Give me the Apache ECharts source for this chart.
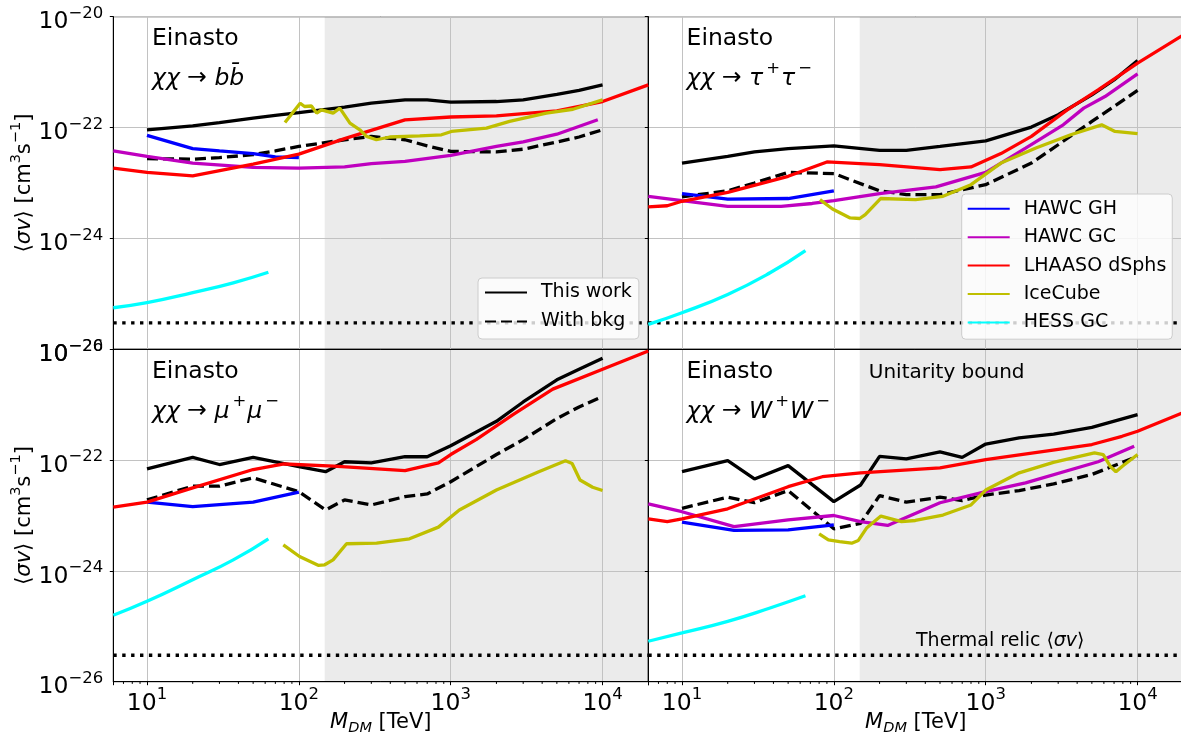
<!DOCTYPE html>
<html><head><meta charset="utf-8">
<script src="https://cdn.jsdelivr.net/npm/echarts@6/dist/echarts.min.js"></script>
<style>html,body{margin:0;padding:0;background:#fff;}#c{width:1181px;height:745px;}</style>
</head><body><div id="c"></div>
<script>
// ---------------- DATA ----------------
// axis ranges / ticks
const xMin = 6, xMax = 20000;
const yMin = 1e-26, yMax = 1e-20;
const xTickExps = [1, 2, 3, 4];
const yTickExps = [-26, -24, -22, -20];
const yTickValues = [1e-26, 1e-24, 1e-22, 1e-20];
const thermalRelic = 3e-26;
const unitarityMass = 148;

// ---- chi chi -> b bbar ----
const bb_massBlack = [10,20,30,50,70,100,200,300,500,700,1000,2000,3000,5000,7000,10000];
const bb_thisWork = [9.12e-23,1.07e-22,1.23e-22,1.48e-22,1.66e-22,1.86e-22,2.34e-22,2.75e-22,3.16e-22,3.16e-22,2.88e-22,2.95e-22,3.16e-22,3.98e-22,4.68e-22,5.89e-22];
const bb_withBkg = [2.75e-23,2.69e-23,2.88e-23,3.24e-23,3.80e-23,4.57e-23,6.03e-23,6.92e-23,6.03e-23,4.68e-23,3.72e-23,3.63e-23,4.07e-23,5.50e-23,6.76e-23,9.12e-23];
const bb_massHawcGH = [10,20,30,50,70,100];
const bb_hawcGH = [7.24e-23,4.17e-23,3.80e-23,3.39e-23,2.95e-23,2.88e-23];
const bb_massHawcGC = [6,10,20,50,100,200,300,500,1000,2000,3000,5000,9300];
const bb_hawcGC = [3.80e-23,3.02e-23,2.29e-23,1.91e-23,1.86e-23,1.95e-23,2.24e-23,2.45e-23,3.16e-23,4.57e-23,5.50e-23,7.59e-23,1.38e-22];
const bb_massLhaaso = [6,10,20,50,100,200,500,1000,2000,5000,10000,20000];
const bb_lhaaso = [1.86e-23,1.55e-23,1.35e-23,2.19e-23,3.31e-23,6.31e-23,1.38e-22,1.55e-22,1.62e-22,2.00e-22,2.95e-22,5.89e-22];
const bb_massIceCube = [81,102,109,121,131,141,168,186,217,252,279,324,397,625,869,1010,1720,2440,4260,6380,10000];
const bb_iceCube = [1.23e-22,2.75e-22,2.40e-22,2.45e-22,1.82e-22,2.09e-22,1.82e-22,2.24e-22,1.20e-22,9.12e-23,6.92e-23,6.03e-23,6.76e-23,7.08e-23,7.41e-23,8.51e-23,9.77e-23,1.29e-22,1.82e-22,2.14e-22,3.16e-22];
const bb_massHess = [6,10,20,37,63];
const bb_hess = [5.62e-26,6.92e-26,1.05e-25,1.58e-25,2.45e-25];

// ---- chi chi -> tau+ tau- ----
const tt_massBlack = [10,20,30,50,100,200,300,500,1000,2000,3000,5000,7000,10000];
const tt_thisWork = [2.29e-23,3.02e-23,3.63e-23,4.17e-23,4.68e-23,3.89e-23,3.89e-23,4.57e-23,5.75e-23,1.02e-22,1.70e-22,3.89e-22,7.24e-22,1.62e-21];
const tt_withBkg = [5.62e-24,7.24e-24,1.00e-23,1.55e-23,1.48e-23,7.24e-24,6.17e-24,6.17e-24,9.33e-24,2.29e-23,4.90e-23,1.29e-22,2.40e-22,4.68e-22];
const tt_massHawcGH = [10,20,50,100];
const tt_hawcGH = [6.46e-24,5.13e-24,5.25e-24,7.24e-24];
const tt_massHawcGC = [6,10,20,45,72,100,200,470,1000,1830,3240,4420,6100,10000];
const tt_hawcGC = [5.75e-24,4.79e-24,3.80e-24,3.80e-24,4.27e-24,4.79e-24,6.46e-24,8.51e-24,1.55e-23,4.27e-23,1.12e-22,2.24e-22,3.63e-22,9.33e-22];
const tt_massLhaaso = [6,8,10,20,50,90,200,500,800,1260,2000,3440,5500,10000,20000];
const tt_lhaaso = [3.72e-24,3.89e-24,4.68e-24,6.76e-24,1.32e-23,2.40e-23,2.14e-23,1.74e-23,1.95e-23,3.39e-23,6.92e-23,2.09e-22,4.79e-22,1.45e-21,4.68e-21];
const tt_massIceCube = [81,98,128,148,161,203,345,523,800,1260,2140,3630,5800,7100,10000];
const tt_iceCube = [5.01e-24,3.39e-24,2.34e-24,2.29e-24,2.69e-24,5.25e-24,5.01e-24,5.75e-24,9.33e-24,2.29e-23,4.27e-23,7.41e-23,1.12e-22,8.51e-23,7.76e-23];
const tt_massHess = [6,10,20,38,65];
const tt_hess = [2.82e-26,4.57e-26,9.77e-26,2.40e-25,6.03e-25];

// ---- chi chi -> mu+ mu- ----
const mm_massBlack = [10,20,30,50,100,150,200,300,500,700,1000,2000,3000,5000,7000,10000];
const mm_thisWork = [6.92e-23,1.12e-22,8.32e-23,1.12e-22,7.59e-23,6.17e-23,9.33e-23,8.91e-23,1.15e-22,1.15e-22,1.82e-22,5.01e-22,1.12e-21,2.82e-21,4.37e-21,6.92e-21];
const mm_withBkg = [1.91e-23,3.39e-23,3.39e-23,4.79e-23,2.69e-23,1.26e-23,1.91e-23,1.55e-23,2.19e-23,2.45e-23,4.07e-23,1.26e-22,2.34e-22,5.62e-22,9.12e-22,1.41e-21];
const mm_massHawcGH = [10,20,50,100];
const mm_hawcGH = [1.74e-23,1.45e-23,1.74e-23,2.63e-23];
const mm_massLhaaso = [6,10,20,50,80,170,500,830,1000,1470,2600,4700,10000,20000];
const mm_lhaaso = [1.41e-23,1.74e-23,3.16e-23,6.76e-23,8.51e-23,7.76e-23,6.46e-23,8.91e-23,1.26e-22,2.34e-22,6.76e-22,1.91e-21,4.37e-21,9.33e-21];
const mm_massIceCube = [79,101,134,148,168,206,325,535,830,1140,2000,3800,5700,6300,7100,8600,10000];
const mm_iceCube = [2.95e-24,1.82e-24,1.26e-24,1.29e-24,1.58e-24,3.09e-24,3.16e-24,3.80e-24,6.17e-24,1.26e-23,2.88e-23,6.17e-23,9.77e-23,8.71e-23,4.37e-23,3.24e-23,2.82e-23];
const mm_massHess = [6,10,20,37,63];
const mm_hess = [1.58e-25,2.82e-25,6.92e-25,1.58e-24,3.80e-24];

// ---- chi chi -> W+ W- ----
const ww_massBlack = [10,20,30,50,100,150,200,300,500,700,1000,1660,2800,5000,10000];
const ww_thisWork = [6.17e-23,9.77e-23,4.57e-23,7.94e-23,1.78e-23,3.55e-23,1.17e-22,1.05e-22,1.41e-22,1.12e-22,1.95e-22,2.51e-22,2.95e-22,3.89e-22,6.61e-22];
const ww_withBkg = [1.35e-23,2.14e-23,1.70e-23,2.82e-23,5.75e-24,7.24e-24,2.29e-23,1.74e-23,2.14e-23,1.86e-23,2.34e-23,2.82e-23,3.72e-23,5.50e-23,1.17e-22];
const ww_massHawcGH = [10,22,50,100];
const ww_hawcGH = [7.59e-24,5.37e-24,5.50e-24,6.76e-24];
const ww_massHawcGC = [6,10,22,50,100,150,226,500,1000,1830,5500,9500];
const ww_hawcGC = [1.62e-23,1.17e-23,6.31e-24,8.32e-24,1.00e-23,7.76e-24,6.61e-24,1.70e-23,2.69e-23,3.89e-23,9.33e-23,1.78e-22];
const ww_massLhaaso = [6,8,10,20,50,84,150,500,1000,5000,7900,10000,20000];
const ww_lhaaso = [8.71e-24,7.76e-24,8.71e-24,1.32e-23,3.31e-23,5.01e-23,5.89e-23,7.24e-23,1.02e-22,1.91e-22,2.69e-22,3.31e-22,7.24e-22];
const ww_massIceCube = [80,92,109,131,145,165,204,279,344,523,800,1000,1660,2790,5200,5940,6600,7200,7940,10000];
const ww_iceCube = [4.68e-24,3.63e-24,3.39e-24,3.16e-24,3.55e-24,6.03e-24,9.77e-24,7.76e-24,8.13e-24,1.02e-23,1.55e-23,2.88e-23,5.89e-23,9.12e-23,1.35e-22,1.26e-22,7.76e-23,6.17e-23,7.76e-23,1.26e-22];
const ww_massHess = [6,10,20,38,65];
const ww_hess = [5.37e-26,7.59e-26,1.23e-25,2.14e-25,3.55e-25];

// labels
const profileLabel = 'Einasto';
const channelLabels = [
  '{i|χχ}{n| → }{i|bb\u0304}',
  '{i|χχ}{n| → }{i|τ}{p|+}{i|τ}{p|−}',
  '{i|χχ}{n| → }{i|μ}{p|+}{i|μ}{p|−}',
  '{i|χχ}{n| → }{i|W}{p|+}{i|W}{p|−}'
];
const legendMain = ['This work', 'With bkg'];
const legendOthers = ['HAWC GH', 'HAWC GC', 'LHAASO dSphs', 'IceCube', 'HESS GC'];

// ---------------- CHART ----------------
const FONT = '"DejaVu Sans", sans-serif';
const C = {black:'#000000', blue:'#0000ff', mag:'#bf00bf', red:'#ff0000', olive:'#bfbf00', cyan:'#00ffff'};
const LW = 3.3;

const grids = [
  {left:113.3, top:16.7, width:535, height:332.6},
  {left:648.3, top:16.7, width:535, height:332.6},
  {left:113.3, top:349.3, width:535, height:332.4},
  {left:648.3, top:349.3, width:535, height:332.4}
].map(g => Object.assign(g, {show:true, borderColor:'#000', borderWidth:1, z:1, containLabel:false, outerBoundsMode:'none'}));

const powRich = {
  b: {fontFamily:FONT, fontSize:23.5, lineHeight:29, color:'#000', verticalAlign:'bottom'},
  e: {fontFamily:FONT, fontSize:16.5, lineHeight:14, color:'#000', verticalAlign:'top'}
};
function powLabel(exps) {
  return function(v) {
    const l = Math.log10(v), e = Math.round(l);
    if (Math.abs(l - e) > 1e-4 || exps.indexOf(e) < 0) return '';
    return '{b|10}{e|' + String(e).replace('-', '\u2212') + '}';
  };
}

const xAxes = [0,1,2,3].map(i => {
  const bottom = i >= 2;
  return {
    type:'log', logBase:10, gridIndex:i, min:xMin, max:xMax, z:1,
    axisLine:{show:true, lineStyle:{color:'#000', width:1}},
    axisTick:{show:bottom, inside:false, length:3.5, lineStyle:{color:'#000', width:1}},
    axisLabel:{show:bottom, formatter:powLabel(xTickExps), rich:powRich, margin:4.8, hideOverlap:false},
    splitLine:{show:true, lineStyle:{color:'#c2c2c2', width:1}},
    minorTick:{show:false}, minorSplitLine:{show:false},
    name: bottom ? '{i|M}{s|DM}{n| [TeV]}' : '',
    nameLocation:'middle', nameGap:30, nameMoveOverlap:false,
    nameTextStyle:{rich:{
      i:{fontFamily:FONT, fontSize:21, fontStyle:'italic', lineHeight:24, verticalAlign:'top', color:'#000'},
      s:{fontFamily:FONT, fontSize:14.5, fontStyle:'italic', lineHeight:14, verticalAlign:'bottom', color:'#000'},
      n:{fontFamily:FONT, fontSize:21, lineHeight:24, verticalAlign:'top', color:'#000'}
    }}
  };
});

const yAxes = [0,1,2,3].map(i => {
  const left = (i % 2) === 0;
  return {
    type:'log', logBase:100, gridIndex:i, min:yMin, max:yMax, z:1,
    axisLine:{show:true, lineStyle:{color:'#000', width:1}},
    axisTick:{show:true, inside:false, length:3.5, lineStyle:{color:'#000', width:1}},
    axisLabel:{show:left, formatter:powLabel(yTickExps), rich:powRich, margin:10, padding:[6,0,0,0],
      customValues:yTickValues, hideOverlap:false, showMinLabel:true, showMaxLabel:true},
    splitLine:{show:true, lineStyle:{color:'#c2c2c2', width:1}},
    name: left ? '{n|⟨}{i|σv}{n|⟩ [cm}{s|3}{n|s}{s|−1}{n|]}' : '',
    nameLocation:'middle', nameGap:78, nameRotate:90, nameMoveOverlap:false,
    nameTextStyle:{rich:{
      n:{fontFamily:FONT, fontSize:21, lineHeight:27, verticalAlign:'bottom', color:'#000'},
      i:{fontFamily:FONT, fontSize:21, fontStyle:'italic', lineHeight:27, verticalAlign:'bottom', color:'#000'},
      s:{fontFamily:FONT, fontSize:14.5, lineHeight:13, verticalAlign:'top', color:'#000'}
    }}
  };
});

function pairs(xs, ys) { return xs.map((x, k) => [x, ys[k]]); }
function line(name, gi, xs, ys, color, dash, smooth) {
  return {
    type:'line', name:name, xAxisIndex:gi, yAxisIndex:gi, data:pairs(xs, ys),
    symbol:'none', showSymbol:false, clip:true, z:2, silent:true, smooth:!!smooth,
    animation:false, emphasis:{disabled:true},
    lineStyle:{color:color, width:LW, type:dash || 'solid', cap:'butt'},
    itemStyle:{color:color}
  };
}

const series = [];
// shaded region (unitarity bound) through the axes' scales
[0,1,2,3].forEach(gi => {
  series.push({
    type:'custom', xAxisIndex:gi, yAxisIndex:gi, z:0, silent:true, clip:true, animation:false,
    data:[[unitarityMass, xMax, yMax, yMin]],
    encode:{x:[0,1], y:[2,3]},
    renderItem:(params, api) => {
      const p1 = api.coord([api.value(0), api.value(2)]);
      const p2 = api.coord([api.value(1), api.value(3)]);
      return {type:'rect', shape:{x:p1[0], y:p1[1], width:p2[0]-p1[0], height:p2[1]-p1[1]}, style:{fill:'#ebebeb'}};
    }
  });
});

const DASH = [11, 5];
const panels = [
  {gi:0, tw:[bb_massBlack,bb_thisWork], wb:[bb_massBlack,bb_withBkg], gh:[bb_massHawcGH,bb_hawcGH], gc:[bb_massHawcGC,bb_hawcGC], lh:[bb_massLhaaso,bb_lhaaso], ic:[bb_massIceCube,bb_iceCube], hs:[bb_massHess,bb_hess]},
  {gi:1, tw:[tt_massBlack,tt_thisWork], wb:[tt_massBlack,tt_withBkg], gh:[tt_massHawcGH,tt_hawcGH], gc:[tt_massHawcGC,tt_hawcGC], lh:[tt_massLhaaso,tt_lhaaso], ic:[tt_massIceCube,tt_iceCube], hs:[tt_massHess,tt_hess]},
  {gi:2, tw:[mm_massBlack,mm_thisWork], wb:[mm_massBlack,mm_withBkg], gh:[mm_massHawcGH,mm_hawcGH], gc:null, lh:[mm_massLhaaso,mm_lhaaso], ic:[mm_massIceCube,mm_iceCube], hs:[mm_massHess,mm_hess]},
  {gi:3, tw:[ww_massBlack,ww_thisWork], wb:[ww_massBlack,ww_withBkg], gh:[ww_massHawcGH,ww_hawcGH], gc:[ww_massHawcGC,ww_hawcGC], lh:[ww_massLhaaso,ww_lhaaso], ic:[ww_massIceCube,ww_iceCube], hs:[ww_massHess,ww_hess]}
];
panels.forEach(p => {
  const g = p.gi;
  series.push(line('Thermal relic', g, [xMin, xMax], [thermalRelic, thermalRelic], C.black, [3.4, 5.5]));
  series.push(line('This work', g, p.tw[0], p.tw[1], C.black));
  series.push(line('With bkg', g, p.wb[0], p.wb[1], C.black, DASH));
  series.push(line('HAWC GH', g, p.gh[0], p.gh[1], C.blue));
  if (p.gc) series.push(line('HAWC GC', g, p.gc[0], p.gc[1], C.mag));
  series.push(line('LHAASO dSphs', g, p.lh[0], p.lh[1], C.red));
  series.push(line('IceCube', g, p.ic[0], p.ic[1], C.olive));
  series.push(line('HESS GC', g, p.hs[0], p.hs[1], C.cyan, null, true));
});

// minor ticks on the bottom mass axes (log 2..9 positions)
const minorTickMasses = [];
for (let d = 1; d <= 10000; d *= 10) for (let k = 2; k <= 9; k++) { const m = k * d; if (m > xMin && m < xMax) minorTickMasses.push(m); }
[2,3].forEach(gi => {
  series.push({
    type:'custom', xAxisIndex:gi, yAxisIndex:gi, z:3, silent:true, clip:false, animation:false,
    data:minorTickMasses.map(m => [m, yMin]), encode:{x:0, y:1},
    renderItem:(params, api) => {
      const p = api.coord([api.value(0), api.value(1)]);
      return {type:'line', shape:{x1:p[0], y1:p[1], x2:p[0], y2:p[1]+2.2}, style:{stroke:'#000', lineWidth:1}};
    }
  });
});

const legendCommon = {
  orient:'vertical', itemWidth:42, itemHeight:20, selectedMode:false,
  backgroundColor:'rgba(255,255,255,0.8)', borderColor:'#cccccc', borderWidth:1, borderRadius:4,
  itemStyle:{opacity:0},
  textStyle:{fontFamily:FONT, fontSize:19, color:'#000', padding:[0,0,0,9]}
};
const legends = [
  Object.assign({}, legendCommon, {data:legendMain, left:478, top:278, itemGap:10, padding:[5,7,8,6]}),
  Object.assign({}, legendCommon, {data:legendOthers, left:961.7, top:194, itemGap:9.4, padding:[5.3,6,7.3,5]})
];

const mathRich = {
  i:{fontFamily:FONT, fontSize:23.5, fontStyle:'italic', lineHeight:30, verticalAlign:'bottom', fill:'#000'},
  n:{fontFamily:FONT, fontSize:23.5, lineHeight:30, verticalAlign:'bottom', fill:'#000'},
  p:{fontFamily:FONT, fontSize:16.5, lineHeight:14, verticalAlign:'top', padding:[0,1,0,3], fill:'#000'}
};
const textPos = [[152, 39.3, 75], [686.6, 39.3, 75], [152, 371.7, 408], [686.6, 371.7, 408]];
const graphic = [];
textPos.forEach((tp, k) => {
  graphic.push({type:'text', x:tp[0], y:tp[1], z:10, silent:true,
    style:{text:profileLabel, font:'23.5px "DejaVu Sans"', fill:'#000', align:'left', verticalAlign:'middle'}});
  graphic.push({type:'text', x:tp[0], y:tp[2], z:10, silent:true,
    style:{text:channelLabels[k], rich:mathRich, font:'23.5px "DejaVu Sans"', fill:'#000', align:'left', verticalAlign:'middle'}});
});
graphic.push({type:'text', x:868.8, y:372.3, z:10, silent:true,
  style:{text:'Unitarity bound', font:'20px "DejaVu Sans"', fill:'#000', align:'left', verticalAlign:'middle'}});
graphic.push({type:'text', x:916, y:641.5, z:10, silent:true,
  style:{text:'{n|Thermal relic ⟨}{i|σv}{n|⟩}', rich:{
    n:{fontFamily:FONT, fontSize:19, fill:'#000'}, i:{fontFamily:FONT, fontSize:19, fontStyle:'italic', fill:'#000'}},
    font:'19px "DejaVu Sans"', fill:'#000', align:'left', verticalAlign:'middle'}});

const chart = echarts.init(document.getElementById('c'), null, {renderer:'canvas'});
chart.setOption({
  animation:false,
  backgroundColor:'#fff',
  textStyle:{fontFamily:FONT},
  grid:grids, xAxis:xAxes, yAxis:yAxes,
  legend:legends,
  series:series,
  graphic:graphic
});
</script></body></html>
